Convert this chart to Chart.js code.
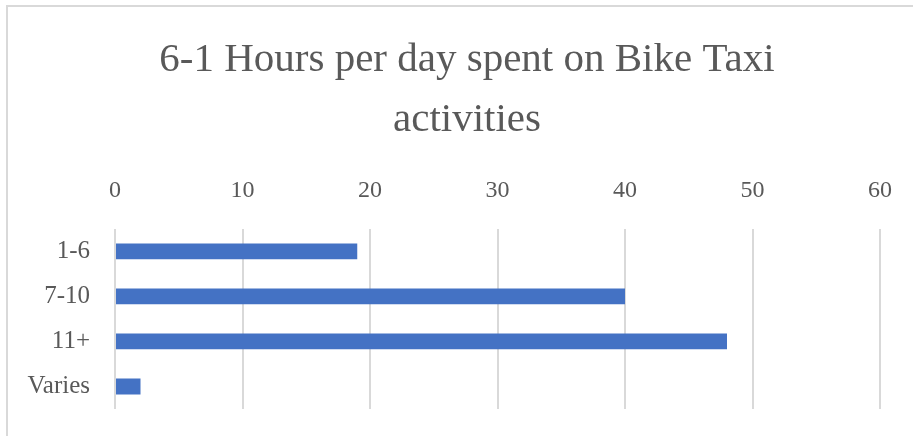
<!DOCTYPE html>
<html>
<head>
<meta charset="utf-8">
<script src="https://cdn.jsdelivr.net/npm/chart.js@4"></script>
<style>
  html, body { margin: 0; background: #fff; overflow: hidden; }
  .frame {
    position: absolute; left: 6px; top: 5px; width: 907px; height: 431px;
    border-left: 2px solid #d9d9d9; border-top: 2px solid #d9d9d9;
    box-sizing: border-box;
  }
  .wrap { position: absolute; left: 0; top: 0; width: 913px; height: 436px; }
</style>
</head>
<body>
<div class="frame"></div>
<div class="wrap"><canvas id="myChart"></canvas></div>
<script>
// Chart data
var categories = ["1-6", "7-10", "11+", "Varies"];
var hours = [19, 40, 48, 2];
var xTicks = [0, 10, 20, 30, 40, 50, 60];
var titleLines = ["6-1 Hours per day spent on Bike Taxi", "activities"];

var serif = "'Liberation Serif', 'DejaVu Serif', serif";
var textColor = "#595959";

//The title sits a bit right of the plot centre in the original,
//so it is drawn here instead of through the title plugin.
var titlePlugin = {
    id: 'offsetTitle',
    afterDraw: function (chart) {
        var c = chart.ctx;
        c.save();
        c.fillStyle = textColor;
        c.font = "41px " + serif;
        c.textAlign = "center";
        c.textBaseline = "alphabetic";
        for (var i = 0; i < titleLines.length; i++)
            c.fillText(titleLines[i], 467, 71 + i * 60);
        c.restore();
    }
};

var ctx = document.getElementById("myChart").getContext('2d');
var myChart = new Chart(ctx, {
    type: 'bar',
    data: {
        labels: categories,
        datasets: [{
            label: "Hours",
            data: hours,
            backgroundColor: "#4472c4",
            borderWidth: 0,
            categoryPercentage: 0.8,
            barPercentage: 0.44
        }]
    },
    plugins: [titlePlugin],
    options: {
        indexAxis: 'y',
        responsive: true,
        maintainAspectRatio: false,
        animation: false,
        layout: { padding: { left: 20, right: 33, top: 152, bottom: 27 } },
        plugins: {
            legend: { display: false },
            tooltip: { enabled: false },
            title: { display: false }
        },
        scales: {
            x: {
                position: 'top',
                min: 0,
                max: 60,
                afterBuildTicks: function (axis) {
                    axis.ticks = xTicks.map(function (v) { return { value: v }; });
                },
                // let the layout padding alone decide the plot's right edge
                afterFit: function (axis) {
                    axis.paddingLeft = 0;
                    axis.paddingRight = 0;
                },
                grid: { color: "#d9d9d9", lineWidth: 2, drawTicks: false },
                border: { display: false },
                ticks: {
                    color: textColor,
                    padding: 24,
                    font: { family: serif, size: 24 }
                }
            },
            y: {
                // fixed width so the plot starts where the original does,
                // and no extra room above/below for the labels
                afterFit: function (axis) {
                    axis.width = 95;
                    axis.paddingTop = 0;
                    axis.paddingBottom = 0;
                },
                grid: { display: false, drawTicks: false },
                border: { display: false },
                ticks: {
                    color: textColor,
                    padding: 25,
                    font: { family: serif, size: 25 }
                }
            }
        }
    }
});
</script>
</body>
</html>
